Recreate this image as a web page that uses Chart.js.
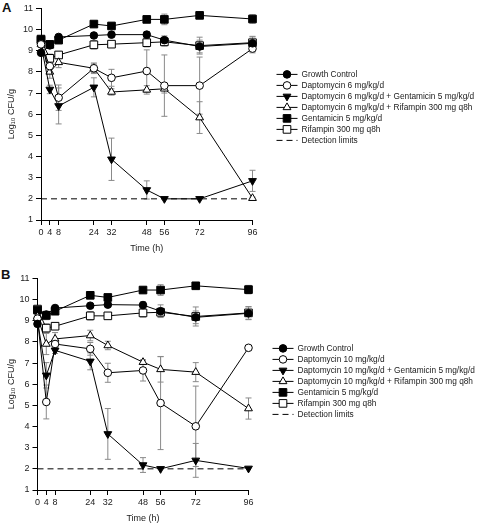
<!DOCTYPE html>
<html>
<head>
<meta charset="utf-8">
<script src="https://cdn.jsdelivr.net/npm/chart.js@4.4.1/dist/chart.umd.min.js"></script>
<style>
  body { margin: 0; background: #fff; }
  .wrap { position: relative; width: 480px; height: 524px; }
  canvas { position: absolute; left: 0; }
  .tag { position: absolute; font: bold 13px "Liberation Sans", Arial, sans-serif; color: #111; }
</style>
</head>
<body>
<div class="wrap">
  <div class="tag" style="left:2px;top:0px">A</div>
  <canvas id="chartA" width="480" height="254" style="top:0"></canvas>
  <div class="tag" style="left:1px;top:267px">B</div>
  <canvas id="chartB" width="480" height="254" style="top:270px"></canvas>
</div>
<script>
const hours = [0, 4, 8, 24, 32, 48, 56, 72, 96];
const xTicks = [0, 4, 8, 24, 32, 48, 56, 72, 96];
const detectionLimit = 2;

// panel A
const labelsA = ['Growth Control', 'Daptomycin 6 mg/kg/d', 'Daptomycin 6 mg/kg/d + Gentamicin 5 mg/kg/d',
    'Daptomycin 6 mg/kg/d + Rifampin 300 mg q8h', 'Gentamicin 5 mg/kg/d', 'Rifampin 300 mg q8h', 'Detection limits'];
const growthA  = [8.9, 9.25, 9.65, 9.72, 9.76, 9.76, 9.5, 9.2, 9.35];
const dapA     = [9.3, 8.27, 6.78, 8.17, 7.72, 8.04, 7.35, 7.35, 9.1];
const dapGentA = [9.3, 7.17, 6.39, 7.27, 3.87, 2.42, 2.0, 2.0, 2.85];
const dapRifA  = [9.3, 8.0, 8.45, 8.17, 7.05, 7.15, 7.2, 5.84, 2.03];
const gentA    = [9.55, 9.3, 9.5, 10.26, 10.17, 10.48, 10.48, 10.67, 10.5];
const rifA     = [9.5, 8.64, 8.8, 9.28, 9.31, 9.38, 9.42, 9.24, 9.38];
const errGrowthA  = [0.1, 0.1, 0.1, 0.1, 0.1, 0.15, 0.2, 0.3, 0.3];
const errDapA     = [0.1, 0.3, 0.6, 0.2, 0.4, 1.0, 1.45, 1.35, 0.2];
const errDapGentA = [0.1, 0.2, 0.85, 0.45, 1.0, 0.43, 0, 0, 0.5];
const errDapRifA  = [0.1, 0.3, 0.25, 0.25, 0.15, 0.2, 0.2, 0.75, 0.05];
const errGentA    = [0.1, 0.15, 0.1, 0.1, 0.1, 0.1, 0.25, 0.1, 0.2];
const errRifA     = [0.1, 0.2, 0.15, 0.2, 0.15, 0.2, 0.2, 0.4, 0.3];

// panel B
const labelsB = ['Growth Control', 'Daptomycin 10 mg/kg/d', 'Daptomycin 10 mg/kg/d + Gentamicin 5 mg/kg/d',
    'Daptomycin 10 mg/kg/d + Rifampin 300 mg q8h', 'Gentamicin 5 mg/kg/d', 'Rifampin 300 mg q8h', 'Detection limits'];
const growthB  = [8.85, 9.29, 9.6, 9.71, 9.76, 9.74, 9.45, 9.16, 9.35];
const dapB     = [9.1, 5.16, 7.9, 7.67, 6.54, 6.65, 5.11, 4.01, 7.72];
const dapGentB = [9.0, 6.42, 7.6, 7.08, 3.65, 2.18, 2.0, 2.4, 2.02];
const dapRifB  = [9.2, 7.9, 8.14, 8.3, 7.83, 7.04, 6.7, 6.57, 4.85];
const gentB    = [9.5, 9.25, 9.45, 10.2, 10.1, 10.45, 10.45, 10.65, 10.47];
const rifB     = [9.55, 8.65, 8.74, 9.23, 9.23, 9.37, 9.4, 9.2, 9.37];
const errGrowthB  = [0.1, 0.15, 0.1, 0.1, 0.1, 0.15, 0.3, 0.3, 0.3];
const errDapB     = [0.1, 0.8, 0.2, 0.3, 0.45, 0.5, 2.2, 1.9, 0.1];
const errDapGentB = [0.1, 0.6, 0.15, 0.4, 1.2, 0.35, 0, 0.8, 0];
const errDapRifB  = [0.1, 0.5, 0.3, 0.25, 0.2, 0.1, 0.6, 0.45, 0.5];
const errGentB    = [0.1, 0.2, 0.1, 0.1, 0.1, 0.1, 0.25, 0.1, 0.2];
const errRifB     = [0.1, 0.2, 0.15, 0.2, 0.15, 0.2, 0.2, 0.45, 0.3];

const FONT = '"Liberation Sans", Arial, sans-serif';

// marker looks, same order as the legend
const markers = [
    {pointStyle: 'circle', fill: '#000', radius: 3.8, rotation: 0},
    {pointStyle: 'circle', fill: '#fff', radius: 3.8, rotation: 0},
    {pointStyle: 'triangle', fill: '#000', radius: 4.5, rotation: 180},
    {pointStyle: 'triangle', fill: '#fff', radius: 4.5, rotation: 0},
    {pointStyle: 'rect', fill: '#000', radius: 5.4, rotation: 0},
    {pointStyle: 'rect', fill: '#fff', radius: 5.4, rotation: 0}
];

const errorBars = {
    id: 'errorBars',
    beforeDatasetsDraw(chart) {
        const ctx = chart.ctx;
        const y = chart.scales.y;
        ctx.save();
        ctx.strokeStyle = '#8a8a8a';
        ctx.lineWidth = 1;
        chart.data.datasets.forEach((ds, i) => {
            if (!ds.errors) return;
            chart.getDatasetMeta(i).data.forEach((pt, j) => {
                const e = ds.errors[j];
                if (!e) return;
                const v = ds.data[j].y;
                const top = y.getPixelForValue(v + e);
                const bot = y.getPixelForValue(v - e);
                ctx.beginPath();
                ctx.moveTo(pt.x, top); ctx.lineTo(pt.x, bot);
                ctx.moveTo(pt.x - 3, top); ctx.lineTo(pt.x + 3, top);
                ctx.moveTo(pt.x - 3, bot); ctx.lineTo(pt.x + 3, bot);
                ctx.stroke();
            });
        });
        ctx.restore();
    }
};

const sideLegend = {
    id: 'sideLegend',
    afterDraw(chart, args, opts) {
        const ctx = chart.ctx;
        const x0 = chart.chartArea.right + 24;
        let yy = chart.chartArea.top + opts.offset;
        ctx.save();
        ctx.font = '8.3px ' + FONT;
        ctx.textBaseline = 'middle';
        chart.data.datasets.forEach((ds) => {
            ctx.strokeStyle = '#000';
            ctx.lineWidth = 1;
            ctx.setLineDash(ds.borderDash || []);
            ctx.beginPath();
            ctx.moveTo(x0, yy); ctx.lineTo(x0 + 21, yy);
            ctx.stroke();
            ctx.setLineDash([]);
            if (ds.pointRadius) {
                ctx.fillStyle = ds.pointBackgroundColor;
                Chart.helpers.drawPoint(ctx, {pointStyle: ds.pointStyle, rotation: ds.rotation,
                    radius: ds.pointRadius, borderWidth: 1}, x0 + 10.5, yy);
            }
            ctx.fillStyle = '#1a1a1a';
            ctx.fillText(ds.label, x0 + 25, yy);
            yy += 11;
        });
        ctx.restore();
    }
};

function makeChart(id, labels, series, errs, left, right, legendOffset) {
    const datasets = series.map((vals, i) => ({
        label: labels[i],
        data: hours.map((h, j) => ({x: h, y: vals[j]})),
        errors: errs[i],
        borderColor: '#000',
        borderWidth: 1,
        pointStyle: markers[i].pointStyle,
        rotation: markers[i].rotation,
        pointRadius: markers[i].radius,
        pointBackgroundColor: markers[i].fill,
        pointBorderColor: '#000',
        pointBorderWidth: 1,
        clip: false
    }));
    datasets.push({
        label: labels[6],
        data: [{x: 0, y: detectionLimit}, {x: 96, y: detectionLimit}],
        borderColor: '#000',
        borderWidth: 1,
        borderDash: [6, 4],
        pointRadius: 0,
        clip: false
    });

    new Chart(document.getElementById(id), {
        type: 'line',
        data: {datasets: datasets},
        options: {
            responsive: false,
            animation: false,
            layout: {padding: {top: 8, left: 0, right: 480 - right, bottom: 0}},
            plugins: {legend: {display: false}, tooltip: {enabled: false}, sideLegend: {offset: legendOffset}},
            scales: {
                x: {
                    type: 'linear', min: 0, max: 96,
                    afterBuildTicks: (axis) => { axis.ticks = xTicks.map(v => ({value: v})); },
                    afterFit: (scale) => { scale.height = 34; },
                    grid: {drawOnChartArea: false, drawTicks: true, tickLength: 5, color: '#000'},
                    border: {color: '#000'},
                    ticks: {font: {size: 9, family: FONT}, color: '#222', padding: 2, maxRotation: 0, autoSkip: false},
                    title: {display: true, text: 'Time (h)', font: {size: 9, family: FONT}, color: '#222', padding: {top: 7, bottom: 0}}
                },
                y: {
                    min: 1, max: 11,
                    afterFit: (scale) => { scale.width = left; },
                    grid: {drawOnChartArea: false, drawTicks: true, tickLength: 5, color: '#000'},
                    border: {color: '#000'},
                    ticks: {stepSize: 1, font: {size: 9, family: FONT}, color: '#222', padding: 3},
                    title: {display: true, text: 'Log\u2081\u2080 CFU/g', font: {size: 9, family: FONT}, color: '#222', padding: {top: 6, bottom: 0}}
                }
            }
        },
        plugins: [errorBars, sideLegend]
    });
}

makeChart('chartA', labelsA, [growthA, dapA, dapGentA, dapRifA, gentA, rifA],
    [errGrowthA, errDapA, errDapGentA, errDapRifA, errGentA, errRifA], 41, 252.5, 66);
makeChart('chartB', labelsB, [growthB, dapB, dapGentB, dapRifB, gentB, rifB],
    [errGrowthB, errDapB, errDapGentB, errDapRifB, errGentB, errRifB], 37.5, 248.5, 70);
</script>
</body>
</html>
